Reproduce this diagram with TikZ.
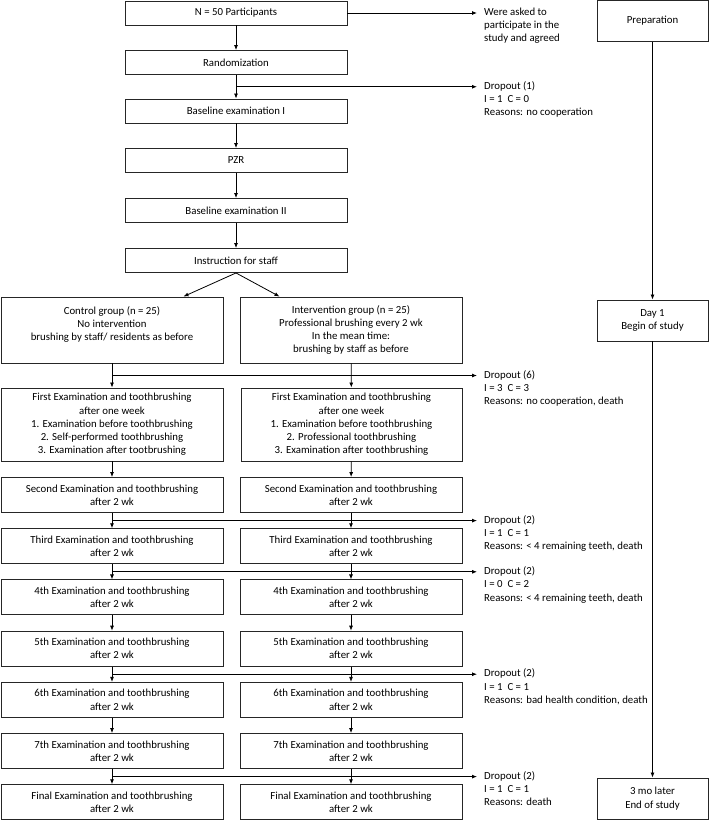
\documentclass[tikz,border=0pt]{standalone}
\usepackage{fontspec}
\setmainfont{Carlito}
\usetikzlibrary{arrows.meta,positioning,calc}
\tikzset{
    box/.style={
        rectangle,
        draw=black!85,
        line width=0.9pt,
        align=center,
        inner sep=2pt,
        font=\fontsize{10.8}{13.3}\selectfont
    },
    mainbox/.style={box, minimum width=222pt, minimum height=24pt},
    exambox/.style={box, minimum width=222pt, minimum height=35pt},
    timebox/.style={box, minimum width=111pt, minimum height=41pt},
    note/.style={anchor=north west, align=left, inner sep=0pt,
        font=\fontsize{10.8}{13.3}\selectfont},
    arrow/.style={-{Latex[length=5pt,width=4pt]}, line width=0.8pt}
}

\begin{document}
\begin{tikzpicture}[x=1pt,y=-1pt]
    \useasboundingbox (0,0) rectangle (709,820);

    % main column
    \node[mainbox] (npart) at (236,13) {N = 50 Participants};
    \node[mainbox] (random) at (236,62.5) {Randomization};
    \node[mainbox] (base1) at (236,111) {Baseline examination I};
    \node[mainbox] (pzr) at (236,160.5) {PZR};
    \node[mainbox] (base2) at (236,210.5) {Baseline examination II};
    \node[mainbox] (instr) at (236,260.5) {Instruction for staff};

    % groups
    \node[box, minimum width=222pt, minimum height=66pt] (ctrl) at (112,330)
        {Control group (n = 25)\\No intervention\\brushing by staff/ residents as before\\\mbox{}};
    \node[box, minimum width=222pt, minimum height=66pt] (intv) at (351,330)
        {Intervention group (n = 25)\\Professional brushing every 2 wk\\In the mean time:\\brushing by staff as before};

    % first examination
    \node[box, minimum width=222pt, minimum height=73pt] (c1) at (112,424.5)
        {First Examination and toothbrushing\\after one week\\1. Examination before toothbrushing\\2. Self-performed toothbrushing\\3. Examination after tootbrushing};
    \node[box, minimum width=221pt, minimum height=73pt] (v1) at (351.5,424.5)
        {First Examination and toothbrushing\\after one week\\1. Examination before toothbrushing\\2. Professional toothbrushing\\3. Examination after toothbrushing};

    % later examinations
    \foreach \name [count=\i from 2] in {Second, Third, 4th, 5th, 6th, 7th, Final} {
        \pgfmathsetmacro\yy{495+51.2*(\i-2)}
        \node[exambox] (c\i) at (112,\yy) {\name{} Examination and toothbrushing\\after 2 wk};
        \node[exambox] (v\i) at (351,\yy) {\name{} Examination and toothbrushing\\after 2 wk};
    }

    % time line
    \node[timebox] (prep) at (652.5,21) {Preparation};
    \node[timebox] (day1) at (652.5,320.5) {Day 1\\Begin of study};
    \node[timebox] (fin) at (652.5,798.5) {3 mo later\\End of study};
    \draw[arrow] (prep) -- (day1);
    \draw[arrow] (day1) -- (fin);

    % arrows
    \draw[arrow] (npart) -- (random);
    \draw[arrow] (random) -- (base1);
    \draw[arrow] (base1) -- (pzr);
    \draw[arrow] (pzr) -- (base2);
    \draw[arrow] (base2) -- (instr);
    \draw[arrow] (instr.south) -- ($(ctrl.north east)+(-40,0)$);
    \draw[arrow] (instr.south) -- ($(intv.north west)+(40,0)$);
    \draw[arrow] (ctrl) -- (c1);
    \draw[arrow] (intv) -- (v1);
    \foreach \i [evaluate=\i as \j using int(\i+1)] in {1,...,7} {
        \draw[arrow] (c\i) -- (c\j);
        \draw[arrow] (v\i) -- (v\j);
    }

    % side notes
    \coordinate (ask) at (477,13);
    \draw[arrow] (npart) -- (ask);
    \node[note] (asktxt) at ([xshift=7pt,yshift=5.5pt]ask)
        {Were asked to\\participate in the\\study and agreed};

    \coordinate (d0) at ($(random.south)!0.5!(base1.north)+(241,0)$);
    \draw[arrow] ($(random.south)!0.5!(base1.north)$) -- (d0);
    \node[note] (d0txt) at ([xshift=7pt,yshift=5.5pt]d0)
        {Dropout (1)\\I = 1\ \ C = 0\\Reasons: no cooperation};

    \coordinate (d1) at ($(ctrl.south)!0.5!(c1.north)+(365,0)$);
    \draw[arrow] ($(ctrl.south)!0.5!(c1.north)$) -- (d1);
    \node[note] (d1txt) at ([xshift=7pt,yshift=5.5pt]d1)
        {Dropout (6)\\I = 3\ \ C = 3\\Reasons: no cooperation, death};

    \foreach \i/\nr/\txt in {2/{I = 1\ \ C = 1}/{Reasons: < 4 remaining teeth, death},
                             3/{I = 0\ \ C = 2}/{Reasons: < 4 remaining teeth, death},
                             5/{I = 1\ \ C = 1}/{Reasons: bad health condition, death},
                             7/{I = 1\ \ C = 1}/{Reasons: death}} {
        \pgfmathtruncatemacro\j{\i+1}
        \coordinate (d\i) at ($(c\i.south)!0.5!(c\j.north)+(365,0)$);
        \draw[arrow] ($(c\i.south)!0.5!(c\j.north)$) -- (d\i);
        \node[note] (d\i txt) at ([xshift=7pt,yshift=5.5pt]d\i)
            {Dropout (2)\\\nr\\\txt};
    }
\end{tikzpicture}
\end{document}
